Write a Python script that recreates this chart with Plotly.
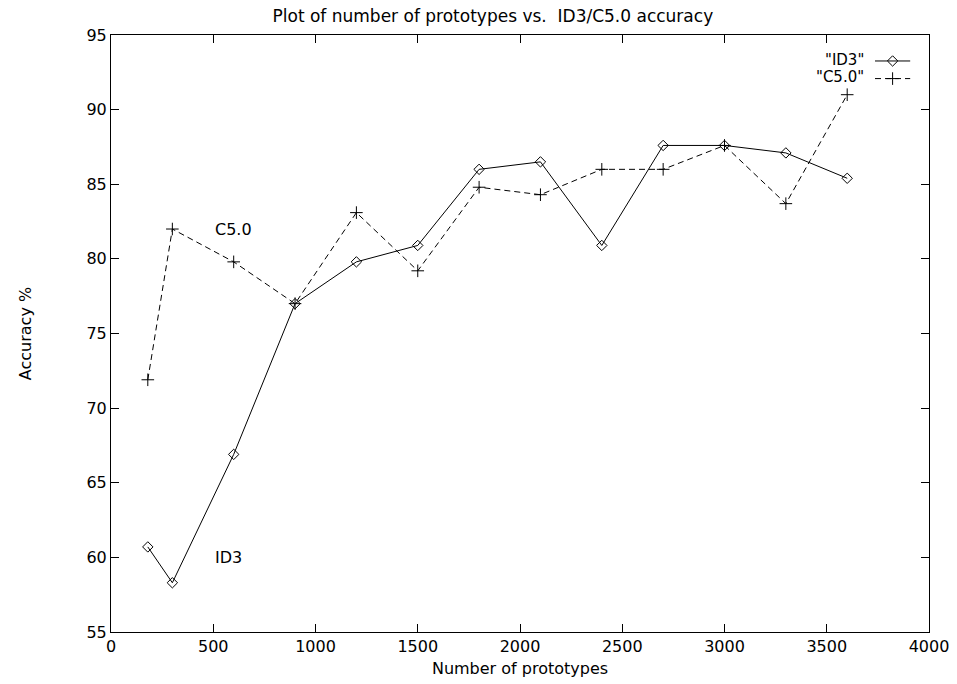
import plotly.graph_objects as go

prototypes = [180, 300, 600, 900, 1200, 1500, 1800, 2100, 2400, 2700, 3000, 3300, 3600]
id3_acc = [60.7, 58.3, 66.9, 77.0, 79.8, 80.9, 86.0, 86.5, 80.9, 87.6, 87.6, 87.1, 85.4]
c50_acc = [71.9, 82.0, 79.8, 77.0, 83.1, 79.2, 84.8, 84.3, 86.0, 86.0, 87.6, 83.7, 91.0]

legend_names = ['"ID3"', '"C5.0"']
font_family = "DejaVu Sans, Liberation Sans, Arial, sans-serif"
FS = 16

fig = go.Figure()
fig.add_trace(go.Scatter(
    x=prototypes, y=id3_acc, mode="lines+markers", name=legend_names[0],
    line=dict(color="black", width=1),
    marker=dict(symbol="diamond-open", size=8, color="black", line=dict(width=1)),
    showlegend=False))
fig.add_trace(go.Scatter(
    x=prototypes, y=c50_acc, mode="lines+markers", name=legend_names[1],
    line=dict(color="black", width=1, dash="6px,4px"),
    marker=dict(symbol="cross-thin-open", size=9, color="black", line=dict(width=1, color="black")),
    showlegend=False))

# custom gnuplot-style legend (text left of sample) on a hidden overlay axis
leg_text_y = [0.958, 0.9296]
leg_y = [0.9565, 0.927]
leg_x0, leg_x1, leg_xm = 0.934, 0.977, 0.9555
fig.add_trace(go.Scatter(x=[leg_x0, leg_xm, leg_x1], y=[leg_y[0]] * 3, xaxis="x2", yaxis="y2",
                         mode="lines", line=dict(color="black", width=1), showlegend=False, hoverinfo="skip"))
fig.add_trace(go.Scatter(x=[leg_xm], y=[leg_y[0]], xaxis="x2", yaxis="y2", mode="markers",
                         marker=dict(symbol="diamond-open", size=8, color="black", line=dict(width=1)),
                         showlegend=False, hoverinfo="skip"))
fig.add_trace(go.Scatter(x=[leg_x0, leg_x1], y=[leg_y[1]] * 2, xaxis="x2", yaxis="y2",
                         mode="lines", line=dict(color="black", width=1, dash="6px,4px"), showlegend=False, hoverinfo="skip"))
fig.add_trace(go.Scatter(x=[leg_xm], y=[leg_y[1]], xaxis="x2", yaxis="y2", mode="markers",
                         marker=dict(symbol="cross-thin-open", size=9, color="black", line=dict(width=1, color="black")),
                         showlegend=False, hoverinfo="skip"))

for name, yy in zip(legend_names, leg_text_y):
    fig.add_annotation(x=0.922, y=yy, xref="x2", yref="y2", text=name, showarrow=False,
                       xanchor="right", yanchor="middle", borderpad=0,
                       font=dict(size=15, color="black", family=font_family))

fig.add_annotation(x=500, y=82.0, text="C5.0", showarrow=False, xanchor="left", yanchor="middle",
                   font=dict(size=FS, color="black", family=font_family))
fig.add_annotation(x=500, y=60.0, text="ID3", showarrow=False, xanchor="left", yanchor="middle",
                   font=dict(size=FS, color="black", family=font_family))

axis_common = dict(showgrid=False, zeroline=False, showline=True, linecolor="black", linewidth=1,
                   mirror="ticks", ticks="inside", ticklen=8, tickcolor="black", tickwidth=1,
                   automargin=False,
                   tickfont=dict(size=FS, color="black", family=font_family))

fig.update_layout(
    width=957, height=684,
    margin=dict(l=111, r=28, t=35, b=52),
    paper_bgcolor="white", plot_bgcolor="white",
    title=dict(text="Plot of number of prototypes vs.  ID3/C5.0 accuracy", x=0.515, xanchor="center",
               y=0.985, yanchor="top", font=dict(size=17, color="black", family=font_family)),
    xaxis=dict(range=[0, 4000], tickmode="linear", tick0=0, dtick=500,
               title=dict(text="Number of prototypes", standoff=7,
                          font=dict(size=FS, color="black", family=font_family)), **axis_common),
    yaxis=dict(range=[55, 95], tickmode="linear", tick0=55, dtick=5,
               title=dict(text="Accuracy %", standoff=50,
                          font=dict(size=FS, color="black", family=font_family)), **axis_common),
    xaxis2=dict(range=[0, 1], overlaying="x", visible=False),
    yaxis2=dict(range=[0, 1], overlaying="y", visible=False),
    font=dict(family=font_family, color="black"),
)

fig.write_html("out.html")
